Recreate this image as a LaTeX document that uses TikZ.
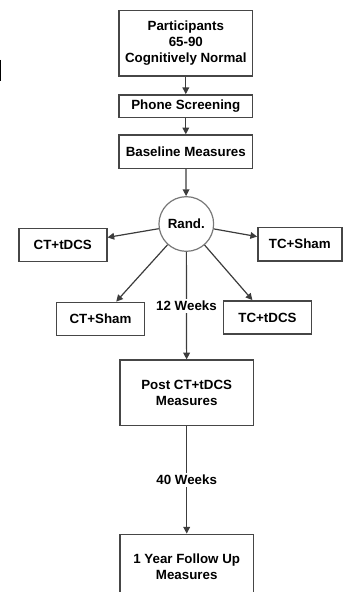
\documentclass[tikz,border=0pt]{standalone}
\usepackage{fontspec}
\setmainfont{Liberation Sans}
\usepackage{tikz}
\usetikzlibrary{arrows.meta,positioning}
\definecolor{boxline}{RGB}{70,70,70}
\definecolor{arrline}{RGB}{60,60,60}
\definecolor{randline}{RGB}{120,120,120}

\begin{document}
\begin{tikzpicture}[
  x=0.75pt, y=-0.75pt,
  font=\fontsize{10}{12}\selectfont\bfseries,
  stage/.style={draw=boxline, line width=1.1pt, align=center, inner sep=0pt},
  arm/.style={stage, minimum width=66pt, minimum height=25pt},
  arr/.style={draw=arrline, line width=0.9pt, -{Triangle[length=5pt,width=5pt]}},
  weeks/.style={fill=white, inner sep=1.5pt}
]
\useasboundingbox (0,0) rectangle (346,592);
\draw[line width=1pt] (0.6,60) -- (0.6,81);
\node[stage, minimum width=100pt, minimum height=49pt] (part) at (185.8,43.2) {Participants\\65-90\\Cognitively Normal};
\node[stage, minimum width=100pt, minimum height=17pt] (phone) at (185.8,106.2) {Phone Screening};
\node[stage, minimum width=100pt, minimum height=25pt] (base) at (185.8,151.7) {Baseline Measures};
\node[circle, draw=randline, line width=0.9pt, minimum size=41pt, inner sep=0pt] (rand) at (186.3,224) {Rand.};
\node[arm] (ctdcs) at (62.8,245) {CT+tDCS};
\node[arm, minimum width=63pt] (tcsham) at (299.8,244.2) {TC+Sham};
\node[arm] (ctsham) at (100.5,319) {CT+Sham};
\node[arm] (tctdcs) at (267.5,317.5) {TC+tDCS};
\node[stage, minimum width=100pt, minimum height=49pt] (post) at (186.7,392.8) {Post CT+tDCS\\Measures};
\node[stage, minimum width=100pt, minimum height=49pt] (follow) at (186.7,567) {1 Year Follow Up\\Measures};
\draw[arr] (part) -- (phone);
\draw[arr] (phone) -- (base);
\draw[arr] (base) -- (rand);
\draw[arr] (rand) -- (ctdcs);
\draw[arr] (rand) -- (tcsham);
\draw[arr] (rand) -- (ctsham);
\draw[arr] (rand) -- (tctdcs);
\draw[arr] (rand) -- node[weeks, midway] (w12) {12 Weeks} (post);
\draw[arr] (post) -- node[weeks, midway] (w40) {40 Weeks} (follow);
\end{tikzpicture}
\end{document}
